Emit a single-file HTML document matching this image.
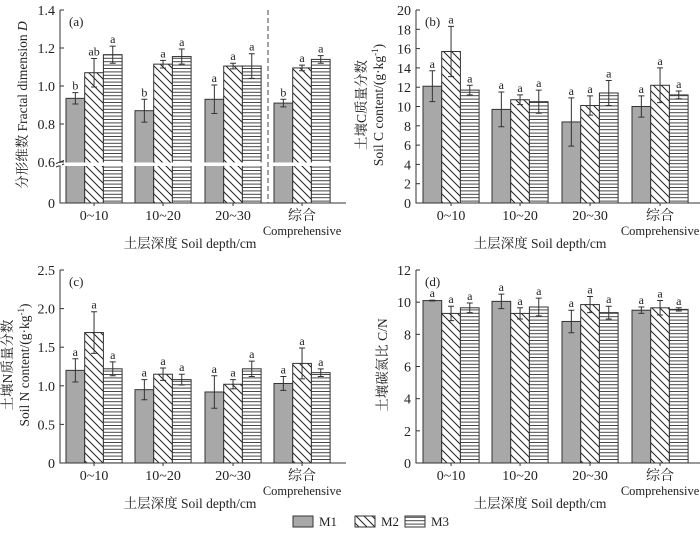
<!DOCTYPE html>
<html><head><meta charset="utf-8"><style>
body{margin:0;background:#fff}
svg{display:block;font-family:"Liberation Serif","Noto Serif CJK SC",serif}
</style></head><body>
<svg id="c" width="700" height="534" viewBox="0 0 700 534" xmlns="http://www.w3.org/2000/svg">
<defs>
<pattern id="diag" patternUnits="userSpaceOnUse" width="8" height="8"><rect width="8" height="8" fill="#fff"/><path d="M-2,-2 L10,10 M-2,6 L2,10 M6,-2 L10,2" stroke="#222" stroke-width="1"/></pattern>
<pattern id="horiz" patternUnits="userSpaceOnUse" width="8" height="3.4"><rect width="8" height="3.4" fill="#fff"/><line x1="0" y1="0.5" x2="8" y2="0.5" stroke="#333" stroke-width="0.9"/></pattern>
</defs>
</svg>
<script>
const categories=["0~10","10~20","20~30","综合"];
const aM1=[0.935,0.87,0.93,0.91], aM1e=[0.03,0.06,0.075,0.02];
const aM2=[1.07,1.115,1.105,1.095], aM2e=[0.075,0.02,0.015,0.015];
const aM3=[1.165,1.155,1.105,1.14], aM3e=[0.045,0.04,0.065,0.02];
const aLet=[["b","ab","a"],["b","a","a"],["a","a","a"],["b","a","a"]];
const bM1=[12.1,9.7,8.4,10.0], bM1e=[1.6,1.8,2.5,1.1];
const bM2=[15.7,10.7,10.1,12.2], bM2e=[2.6,0.5,1.0,1.8];
const bM3=[11.7,10.5,11.4,11.2], bM3e=[0.5,1.2,1.3,0.4];
const cM1=[1.2,0.95,0.92,1.03], cM1e=[0.15,0.13,0.21,0.09];
const cM2=[1.69,1.15,1.02,1.29], cM2e=[0.27,0.08,0.06,0.2];
const cM3=[1.22,1.08,1.22,1.17], cM3e=[0.09,0.07,0.1,0.05];
const dM1=[10.1,10.05,8.8,9.5], dM1e=[0.03,0.45,0.7,0.2];
const dM2=[9.3,9.3,9.85,9.65], dM2e=[0.45,0.35,0.5,0.45];
const dM3=[9.65,9.7,9.35,9.55], dM3e=[0.3,0.55,0.4,0.1];
const aTicks=[0,0.6,0.8,1.0,1.2,1.4], aTickLabels=["0","0.6","0.8","1.0","1.2","1.4"];
const bTicks=[0,2,4,6,8,10,12,14,16,18,20];
const cTicks=[0,0.5,1.0,1.5,2.0,2.5], cTickLabels=["0","0.5","1.0","1.5","2.0","2.5"];
const dTicks=[0,2,4,6,8,10,12];
const seriesNames=["M1","M2","M3"];

const svg=document.getElementById('c');
const NS="http://www.w3.org/2000/svg";
function mk(tag,attrs,parent,text){const e=document.createElementNS(NS,tag);for(const k in attrs)e.setAttribute(k,attrs[k]);if(text!==undefined)e.textContent=text;(parent||svg).appendChild(e);return e;}
const fills=["#a8a8a8","url(#diag)","url(#horiz)"];

function panel(o){
  const g=mk('g',{});
  
  
  const x0=o.ax, y0=o.top+193, yTop=o.top;
  const y=o.scale;
  const series=[o.m1,o.m2,o.m3], errs=[o.e1,o.e2,o.e3];
  const gx=o.groupX;
  for(let c=0;c<4;c++){
    for(let s=0;s<3;s++){
      const bx=gx[c]+s*o.bw, v=series[s][c], e=errs[s][c];
      const r=mk('rect',{x:bx,y:y(v),width:o.bw,height:y0-y(v),fill:fills[s],stroke:"#333","stroke-width":1},g);
      
      
      const cx=bx+o.bw/2;
      const eb=mk('path',{d:`M${cx},${y(v+e)}V${y(v-e)}M${cx-3},${y(v+e)}H${cx+3}M${cx-3},${y(v-e)}H${cx+3}`,stroke:"#333","stroke-width":1,fill:"none"},g);
      
      
      const t=mk('text',{x:cx,y:y(v+e)-3,"text-anchor":"middle","font-size":12,fill:"#222"},g,o.letters?o.letters[c][s]:"a");
      
      
    }
    const cxg=gx[c]+1.5*o.bw;
    const tl=mk('text',{x:cxg,y:y0+17,"text-anchor":"middle","font-size":14,fill:"#222"},g,categories[c]);
    
    
    mk('line',{x1:cxg,x2:cxg,y1:y0,y2:y0+3,stroke:"#333"},g);
  }
  const cl=mk('text',{x:gx[3]+1.5*o.bw,y:y0+32,"text-anchor":"middle","font-size":12.5,fill:"#222"},g,"Comprehensive");
  
  
  if(o.gap){
    const gr=mk('rect',{x:x0+1,y:o.gap[0],width:o.right-x0,height:o.gap[1]-o.gap[0],fill:"#fff"},g);
    
    
    mk('path',{d:`M${x0-4},${o.gap[0]+1}l8,-3M${x0-4},${o.gap[1]+1}l8,-3`,stroke:"#333",fill:"none"},g);
  }
  const ya=mk('path',{d:`M${x0},${yTop}V${y0}H${o.right}`,stroke:"#333","stroke-width":1,fill:"none"},g);
  
  
  if(o.gap){mk('rect',{x:x0-2,y:o.gap[0]+0.5,width:4,height:o.gap[1]-o.gap[0]-1,fill:"#fff"},g);}
  o.ticks.forEach((tv,i)=>{
    mk('line',{x1:x0,x2:x0+4,y1:y(tv),y2:y(tv),stroke:"#333"},g);
    const t=mk('text',{x:x0-5,y:y(tv)+5,"text-anchor":"end","font-size":14,fill:"#222"},g,o.tickLabels?o.tickLabels[i]:String(tv));
    
    
  });
  const pl=mk('text',{x:x0+9,y:yTop+16,"font-size":13,fill:"#222"},g,"("+o.id+")");
  
  
  const xt=mk('text',{x:o.xtX,y:y0+45,"text-anchor":"middle","font-size":13.5,fill:"#222"},g,"土层深度 Soil depth/cm");
  
  
  o.ytitles.forEach(([tx,txt])=>{
    const yt=mk('text',{x:0,y:0,"text-anchor":"middle","font-size":13.5,fill:"#222",transform:`translate(${tx},${yTop+95}) rotate(-90)`},g);
    yt.innerHTML=txt;
    
    
  });
}
const leftG=[66,135,205,274], rightG=[423,492,562,632];
function brk(v){return v>=0.6?162-(v-0.6)/0.2*38:203-v/0.6*41;}
panel({id:"a",ax:60,top:10,right:346,bw:18.7,groupX:leftG,scale:brk,m1:aM1,m2:aM2,m3:aM3,e1:aM1e,e2:aM2e,e3:aM3e,letters:aLet,ticks:aTicks,tickLabels:aTickLabels,gap:[162.5,166],xtX:190,ytitles:[[27,'分形维数 Fractal dimension <tspan font-style="italic">D</tspan>']]});
panel({id:"b",ax:416,top:10,right:700,bw:18.7,groupX:rightG,scale:v=>203-v/20*193,m1:bM1,m2:bM2,m3:bM3,e1:bM1e,e2:bM2e,e3:bM3e,ticks:bTicks,xtX:540,ytitles:[[366,'土壤C质量分数'],[383,'Soil C content/(g·kg<tspan font-size="9" dy="-5">-1</tspan><tspan dy="5">)</tspan>']]});
panel({id:"c",ax:60,top:270,right:346,bw:18.7,groupX:leftG,scale:v=>463-v/2.5*193,m1:cM1,m2:cM2,m3:cM3,e1:cM1e,e2:cM2e,e3:cM3e,ticks:cTicks,tickLabels:cTickLabels,xtX:190,ytitles:[[12,'土壤N质量分数'],[29,'Soil N content/(g·kg<tspan font-size="9" dy="-5">-1</tspan><tspan dy="5">)</tspan>']]});
panel({id:"d",ax:416,top:270,right:700,bw:18.7,groupX:rightG,scale:v=>463-v/12*193,m1:dM1,m2:dM2,m3:dM3,e1:dM1e,e2:dM2e,e3:dM3e,ticks:dTicks,xtX:540,ytitles:[[387,'土壤碳氮比 C/N']]});
const ds=mk('line',{x1:268,x2:268,y1:10,y2:203,stroke:"#444","stroke-dasharray":"5,3"});


const legX=[293,355,405];
seriesNames.forEach((n,i)=>{
  const r=mk('rect',{x:legX[i],y:516,width:20,height:11,fill:fills[i],stroke:"#333"});
  
  
  const t=mk('text',{x:legX[i]+26,y:526,"font-size":13,fill:"#222"},svg,n);
  
  
});
</script>
</body></html>
